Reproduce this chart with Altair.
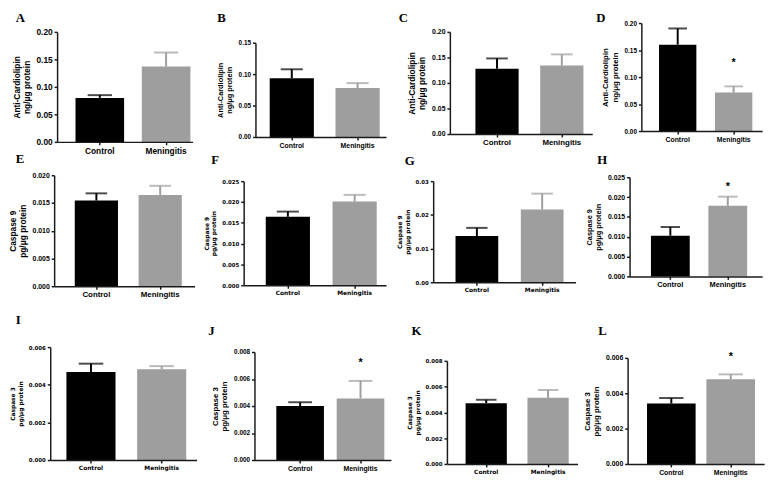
import altair as alt
import pandas as pd

# ---------------- data ----------------
categories = ["Control", "Meningitis"]
panel_letters = ["A", "B", "C", "D", "E", "F", "G", "H", "I", "J", "K", "L"]
row_titles = [
    ["Anti-Cardiolipin", "ng/\u03bcg protein"],
    ["Caspase 9", "pg/\u03bcg protein"],
    ["Caspase 3", "pg/\u03bcg protein"],
]
# mean values (Control, Meningitis)
mean_values = [
    [0.080, 0.137], [0.0936, 0.0779], [0.128, 0.134], [0.160, 0.0713],
    [0.01544, 0.01645], [0.01643, 0.0201], [0.01374, 0.0216], [0.01025, 0.0178],
    [0.00468, 0.00482], [0.0040, 0.00456], [0.00472, 0.00513], [0.00342, 0.00479],
]
# error (SEM) values (Control, Meningitis)
sem_values = [
    [0.005, 0.0255], [0.0141, 0.0078], [0.020, 0.022], [0.030, 0.0115],
    [0.0013, 0.00165], [0.00126, 0.0016], [0.0024, 0.0047], [0.0022, 0.0023],
    [0.00044, 0.00017], [0.00028, 0.0013], [0.00026, 0.00061], [0.00031, 0.00028],
]
# significance star position on the Meningitis bar (None = no star)
star_values = [None, None, None, 0.1305, None, None, None, 0.0233,
               None, 0.0074, None, 0.0062]
y_max = [0.20, 0.15, 0.20, 0.20, 0.020, 0.025, 0.03, 0.025, 0.006, 0.008, 0.008, 0.006]
y_step = [0.05, 0.05, 0.05, 0.05, 0.005, 0.005, 0.01, 0.005, 0.002, 0.002, 0.002, 0.002]
y_format = [".2f", ".2f", ".2f", ".2f", ".3f", ".3f", ".2f", ".3f", ".3f", ".3f", ".3f", ".3f"]

# ---------------- layout (page pixels) ----------------
CELL_W, CELL_H = 192, 150
col_x = [8, 200, 392, 584]
row_y = [8, 158, 308]
# y-axis x, x-axis right end, axis top, axis bottom
axis_x = [50, 252, 450, 645, 47, 240, 433, 633, 43, 251, 447, 631]
axis_r = [188, 385, 595, 768, 190, 385, 578, 768, 192, 390, 580, 770]
axis_t = [28, 39, 28, 19, 174, 180, 180, 176, 349, 354, 363, 360]
axis_b = [140, 135, 132, 129, 287, 286, 283, 277, 464, 464, 468, 468]
# bar centres (relative to y-axis) and bar width
ctrl_c = [43.5, 37, 48, 37, 43, 45, 44.5, 41.5, 41.5, 46.5, 40, 44.5]
men_c = [111, 104, 114, 94, 108, 113, 111, 100, 113.5, 108, 103, 105]
bar_w = [49.5, 45, 44, 38, 44, 45, 43.5, 39.5, 50, 48.5, 42, 49.5]
letter_xy = [(8, 8), (213, 8), (398, 8), (599, 8),
             (8, 152), (207, 153), (404, 154), (600, 153),
             (8, 315), (204, 327), (411, 327), (601, 327)]
# fonts: (family, tick label size, category label size, title size)
fonts = [
    ("Liberation Sans", 8.5, 8.5, 8.5), ("Liberation Sans", 6.5, 7, 7.5),
    ("Liberation Sans", 7, 8, 8.5), ("Liberation Sans", 6.5, 7, 8),
    ("Liberation Sans", 7, 8, 8.5), ("DejaVu Sans", 5.5, 6, 6),
    ("DejaVu Sans", 5.5, 6, 6), ("Liberation Sans", 7, 7.5, 7.5),
    ("DejaVu Sans", 5.5, 6, 6), ("Liberation Sans", 6.5, 7, 8),
    ("DejaVu Sans", 5.5, 6, 6), ("Liberation Sans", 7, 7, 8),
]
BAR_COLORS = ["#000000", "#9e9e9e"]
AXIS_COLOR = "#1a1a1a"


def make_panel(i):
    r, c = divmod(i, 4)
    cx, cy = col_x[c], row_y[r]
    fam, tick_fs, cat_fs, title_fs = fonts[i]
    L = axis_r[i] - axis_x[i]
    s = men_c[i] - ctrl_c[i]
    bw = bar_w[i]
    p_in = 1 - bw / s
    p_out = max(0.0, (L / s - 2 + p_in) / 2)
    free = L - s - bw
    al = min(1.0, max(0.0, (ctrl_c[i] - bw / 2) / free))

    df = pd.DataFrame({
        "group": categories,
        "mean": mean_values[i],
        "upper": [m + e for m, e in zip(mean_values[i], sem_values[i])],
    })
    ticks = [round(k * y_step[i], 6) for k in range(int(round(y_max[i] / y_step[i])) + 1)]

    xs = alt.Scale(domain=categories, range=[axis_x[i] - cx, axis_r[i] - cx],
                   paddingInner=p_in, paddingOuter=p_out, align=al)
    ys = alt.Scale(domain=[0, y_max[i]], range=[axis_b[i] - cy, axis_t[i] - cy],
                   nice=False, zero=True)
    x_axis = alt.Axis(title=None, labelAngle=0, offset=-(CELL_H - (axis_b[i] - cy)),
                      labelFont=fam, labelFontSize=cat_fs, labelFontWeight="bold",
                      labelColor="#000", labelPadding=1.5, tickSize=3,
                      domainColor=AXIS_COLOR, tickColor=AXIS_COLOR,
                      domainWidth=1.5, tickWidth=1.5, zindex=1)
    y_axis = alt.Axis(values=ticks, format=y_format[i], offset=-(axis_x[i] - cx),
                      title=row_titles[r], titleFont=fam, titleFontSize=title_fs,
                      titleFontWeight="bold", titleColor="#000", titlePadding=5,
                      titleLineHeight=title_fs + 1.5,
                      labelFont=fam, labelFontSize=tick_fs, labelFontWeight="bold",
                      labelColor="#000", labelPadding=2, tickSize=3,
                      domainColor=AXIS_COLOR, tickColor=AXIS_COLOR,
                      domainWidth=1.5, tickWidth=1.5, grid=False,
                      labelOverlap=False, labelFlush=False, zindex=1)

    def X():
        return alt.X("group:N", scale=xs, sort=categories, axis=x_axis)

    def Y(field):
        return alt.Y(field, scale=ys, axis=y_axis, title=row_titles[r])

    color = alt.Color("group:N", scale=alt.Scale(domain=categories, range=BAR_COLORS),
                      legend=None)

    base = alt.Chart(df)
    bars = base.mark_bar().encode(x=X(), y=Y("mean:Q"), color=color)
    err = base.mark_rule(strokeWidth=2).encode(x=X(), y=Y("mean:Q"), y2="upper:Q",
                                               color=color)
    cap = base.mark_tick(thickness=2, size=bw * 0.5).encode(
        x=X(), y=Y("upper:Q"), color=color)
    layers = [bars, err, cap]

    if star_values[i] is not None:
        sdf = pd.DataFrame({"group": ["Meningitis"], "pos": [star_values[i]], "t": ["*"]})
        star = alt.Chart(sdf).mark_text(font="Liberation Sans", fontSize=11,
                                        fontWeight="bold", baseline="middle", dy=3,
                                        color="#000").encode(
            x=X(), y=Y("pos:Q"), text="t:N")
        layers.append(star)

    lx, ly = letter_xy[i]
    ldf = pd.DataFrame({"letter": [panel_letters[i]]})
    letter = alt.Chart(ldf).mark_text(font="Liberation Serif", fontSize=13,
                                      fontWeight="bold", align="left", baseline="top",
                                      color="#000").encode(
        text="letter:N", x=alt.value(lx - cx), y=alt.value(ly - cy))
    layers.append(letter)

    return alt.layer(*layers).properties(width=CELL_W, height=CELL_H)


panels = [make_panel(i) for i in range(12)]
chart = alt.concat(*panels, columns=4, spacing=0, bounds="flush").properties(
    padding=0, background="white"
).configure_view(stroke=None)

chart.save("out.html", embed_options={"renderer": "svg", "actions": False})
